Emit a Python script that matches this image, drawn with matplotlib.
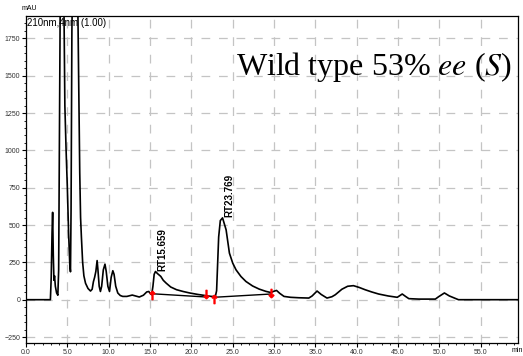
import numpy as np
import matplotlib.pyplot as plt
from matplotlib.ticker import MultipleLocator, FormatStrFormatter

# chromatogram trace, 210 nm channel
time_min = [0.0, 2.95, 3.05, 3.15, 3.22, 3.3, 3.38, 3.45, 3.55, 3.7, 3.85,
            3.95, 4.05, 4.15, 4.5, 4.6, 4.7, 4.85, 5.0, 5.15, 5.3, 5.38,
            5.45, 5.55, 5.7, 6.2, 6.3, 6.4, 6.5, 6.6, 6.7, 6.85, 7.0, 7.2,
            7.5, 7.8, 8.0, 8.15, 8.3, 8.45, 8.6, 8.7, 8.85, 9.0, 9.15, 9.35,
            9.55, 9.7, 9.9, 10.1, 10.3, 10.5, 10.65, 10.85, 11.1, 11.4, 11.7,
            12.2, 12.85, 13.3, 13.7, 14.2, 14.6, 14.85, 15.05, 15.2, 15.35,
            15.5, 15.659, 15.9, 16.3, 16.6, 16.95, 17.5, 18.2, 19.0, 19.8,
            20.8, 21.8, 22.4, 22.9, 23.05, 23.15, 23.3, 23.5, 23.769, 23.95,
            24.2, 24.6, 25.0, 25.4, 26.0, 26.6, 27.4, 28.2, 29.0, 29.6, 29.9,
            30.3, 30.7, 31.2, 32.0, 33.0, 34.2, 34.6, 35.2, 35.7, 36.4, 37.0,
            37.4, 38.2, 38.9, 39.6, 40.3, 41.0, 41.8, 42.65, 43.8, 44.9, 45.5,
            45.9, 46.3, 47.5, 49.5, 49.9, 50.6, 51.2, 52.3, 59.5]
signal_mau = [0, 0, 150, 450, 585, 300, 130, 160, 90, 45, 30,
              200, 1200, 2100, 2300, 1900, 1300, 1000, 750, 450, 230, 187,
              600, 1800, 2400, 2300, 1800, 1300, 850, 550, 420, 250, 160, 110,
              75, 58, 70, 120, 150, 190, 262, 200, 90, 55, 90, 200,
              238, 190, 90, 55, 150, 194, 170, 90, 45, 28, 22,
              22, 31, 24, 18, 30, 52, 55, 40, 33, 90,
              170, 189, 175, 156, 130, 111, 85, 67, 55, 45,
              35, 27, 22, 22, 60, 200, 420, 530, 548, 515,
              468, 312, 245, 200, 155, 122, 92, 71, 56, 48, 55,
              62, 42, 22, 16, 13, 11, 25, 58, 35, 11, 20,
              33, 70, 90, 94, 82, 67, 52, 38, 25, 16, 38,
              22, 7, 4, 4, 20, 45, 25, 0, 0]

# integration baselines
base_t = [[15.2, 21.8], [22.7, 29.6]]
base_v = [[40, 18], [16, 38]]

# peak start / end marks
mark_t = [15.2, 21.8, 22.7, 29.6]
mark_v = [30, 38, 5, 48]
mark_up = [True, False, True, False]

# labelled peaks
peak_rt = [15.659, 23.769]
peak_h = [189, 548]

fig = plt.figure(figsize=(5.23, 3.56), dpi=100)
ax = fig.add_axes([26 / 523, 13 / 356, 492 / 523, 327 / 356])

ax.plot(time_min, signal_mau, color="black", lw=1.2, zorder=3)
for bt, bv in zip(base_t, base_v):
    ax.plot(bt, bv, color="black", lw=1.0, zorder=3)
for t, v, up in zip(mark_t, mark_v, mark_up):
    ax.plot(t, v, marker=r"$\uparrow$" if up else r"$\downarrow$",
            color="red", ms=6, zorder=4)

for rt, h in zip(peak_rt, peak_h):
    ax.text(rt + 0.85, h + 5, f"RT{rt:.3f}", rotation=90, ha="center",
            va="bottom", fontsize=7, fontweight="bold",
            family="Liberation Sans")

ax.set_xlim(0, 59.5)
ax.set_ylim(-290, 1900)
ax.xaxis.set_major_locator(MultipleLocator(5))
ax.xaxis.set_minor_locator(MultipleLocator(1))
ax.xaxis.set_major_formatter(FormatStrFormatter("%.1f"))
ax.set_yticks(range(-250, 1751, 250))
ax.set_yticks(range(-250, 1851, 50), minor=True)
ax.tick_params(which="major", direction="out", length=3, width=0.8,
               labelsize=5, pad=1)
ax.tick_params(which="minor", direction="out", length=1.5, width=0.6)
for lbl in ax.get_xticklabels() + ax.get_yticklabels():
    lbl.set_family("Liberation Sans")
    lbl.set_color("#333333")

ax.grid(True, which="major", color="#c4c4c4", lw=0.9, ls=(0, (7, 7)))
ax.set_axisbelow(True)
for s in ax.spines.values():
    s.set_linewidth(0.9)

ax.text(0.002, 0.995, "210nm,4nm (1.00)", transform=ax.transAxes,
        ha="left", va="top", fontsize=7, family="Liberation Sans")
fig.text(22 / 523, 1 - 9 / 356, "mAU", ha="left", va="center", fontsize=5,
         family="Liberation Sans")
fig.text(1.0, 1 - 350 / 356, "min", ha="right", va="center", fontsize=5,
         family="Liberation Sans")

ax.text(0.988, 0.82, "Wild type 53% $\\mathit{ee}$ ($\\mathit{S}$)",
        transform=ax.transAxes, ha="right", va="baseline", fontsize=23,
        family="Liberation Serif", math_fontfamily="stix")

fig.savefig("out.png", dpi=100)
